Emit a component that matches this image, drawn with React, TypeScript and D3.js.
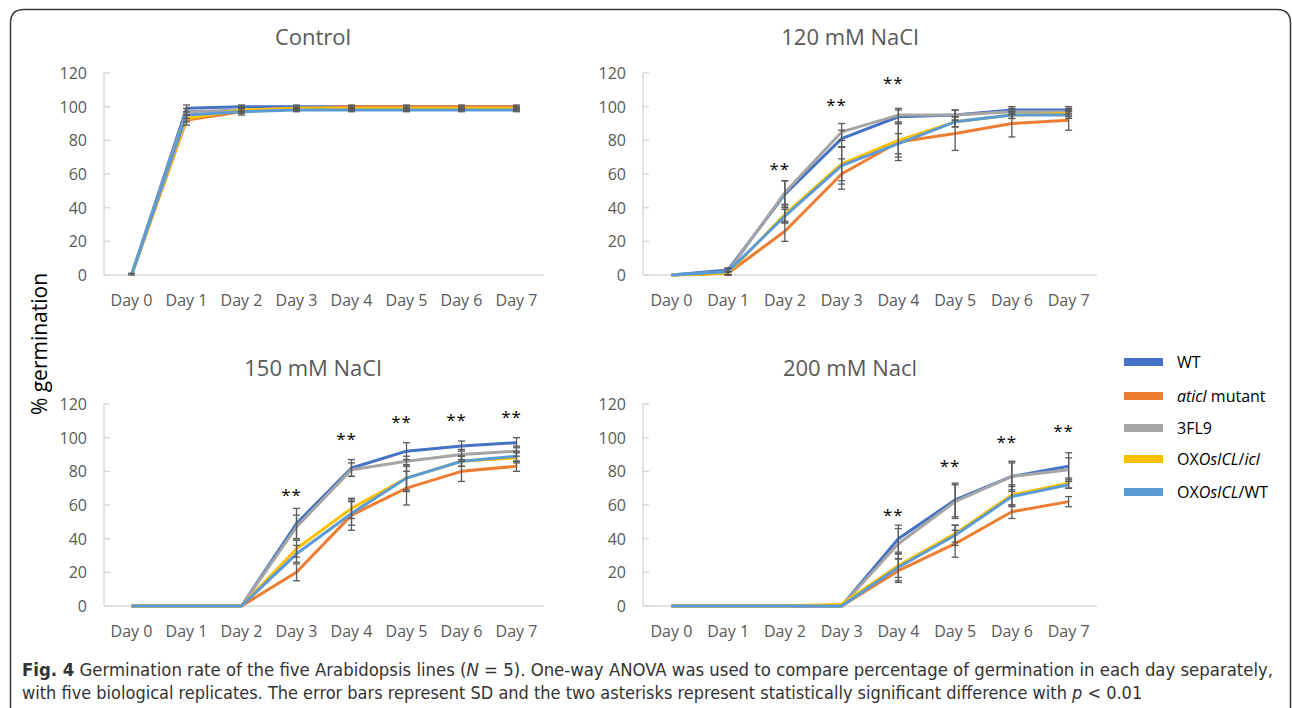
import React, { useEffect, useRef } from 'react';
import * as d3 from 'd3';

// categories / series
const days = ['Day 0', 'Day 1', 'Day 2', 'Day 3', 'Day 4', 'Day 5', 'Day 6', 'Day 7'];
const lineNames = ['WT', 'aticl mutant', '3FL9', 'OXOsICL/icl', 'OXOsICL/WT'];
const lineColors = ['#4472C4', '#ED7D31', '#A5A5A5', '#FFC000', '#5B9BD5'];
const yTicks = [0, 20, 40, 60, 80, 100, 120];
const panelTitles = ['Control', '120 mM NaCl', '150 mM NaCl', '200 mM Nacl'];

// mean % germination per line (rows follow lineNames)
const controlMeans = [
  [0, 99, 100, 100, 100, 100, 100, 100],
  [0, 92, 97, 99, 100, 100, 100, 100],
  [0, 97, 98, 99, 99, 99, 99, 99],
  [0, 93, 98, 99, 99, 99, 99, 99],
  [0, 95, 97, 98, 98, 98, 98, 98],
];
const controlSds = [
  [0, 2, 1, 1, 1, 1, 1, 1],
  [0, 3, 1, 1, 0, 0, 0, 0],
  [0, 2, 1, 1, 1, 1, 1, 1],
  [0, 2, 2, 1, 1, 1, 1, 1],
  [1, 2, 2, 1, 1, 1, 1, 1],
];
const controlStars: [number, number][] = [];

const nacl120Means = [
  [0, 3, 48, 81, 94, 95, 98, 98],
  [0, 1, 26, 60, 79, 84, 90, 92],
  [0, 2, 49, 85, 95, 95, 97, 97],
  [0, 1, 36, 66, 80, 91, 95, 96],
  [0, 2, 35, 65, 78, 91, 95, 95],
];
const nacl120Sds = [
  [0, 1, 8, 5, 4, 3, 2, 2],
  [0, 1, 6, 9, 11, 10, 8, 6],
  [0, 2, 7, 5, 4, 3, 2, 2],
  [0, 1, 5, 10, 10, 3, 2, 2],
  [0, 2, 4, 11, 6, 3, 2, 2],
];
const nacl120Stars: [number, number][] = [[2, 65], [3, 103], [4, 116]];

const nacl150Means = [
  [0, 0, 0, 49, 82, 92, 95, 97],
  [0, 0, 0, 20, 54, 70, 80, 83],
  [0, 0, 0, 47, 81, 86, 90, 92],
  [0, 0, 0, 34, 58, 76, 86, 88],
  [0, 0, 0, 31, 55, 76, 86, 89],
];
const nacl150Sds = [
  [0, 0, 0, 9, 5, 5, 3, 3],
  [0, 0, 0, 5, 9, 10, 6, 3],
  [0, 0, 0, 7, 4, 3, 3, 3],
  [0, 0, 0, 5, 6, 8, 3, 3],
  [0, 0, 0, 5, 7, 7, 3, 3],
];
const nacl150Stars: [number, number][] = [[3, 68], [4, 101], [5, 111], [6, 112], [7, 114]];

const nacl200Means = [
  [0, 0, 0, 0, 40, 63, 77, 83],
  [0, 0, 0, 0, 21, 37, 56, 62],
  [0, 0, 0, 0, 37, 62, 77, 81],
  [0, 0, 0, 1, 24, 43, 66, 73],
  [0, 0, 0, 0, 23, 42, 65, 72],
];
const nacl200Sds = [
  [0, 0, 0, 0, 8, 10, 9, 8],
  [0, 0, 0, 0, 7, 8, 4, 3],
  [0, 0, 0, 0, 9, 10, 8, 7],
  [0, 0, 0, 0, 7, 5, 6, 3],
  [0, 0, 0, 0, 8, 6, 6, 2],
];
const nacl200Stars: [number, number][] = [[4, 56], [5, 85], [6, 99], [7, 106]];

const panelMeans = [controlMeans, nacl120Means, nacl150Means, nacl200Means];
const panelSds = [controlSds, nacl120Sds, nacl150Sds, nacl200Sds];
const panelStars = [controlStars, nacl120Stars, nacl150Stars, nacl200Stars];

// layout of the four plot areas
const boxes = [
  { left: 104, right: 544, top: 73, bottom: 275, titleShift: -11 },
  { left: 643, right: 1097, top: 73, bottom: 275, titleShift: -20 },
  { left: 104, right: 544, top: 404, bottom: 606, titleShift: -11 },
  { left: 643, right: 1097, top: 404, bottom: 606, titleShift: -20 },
];

const W = 1292;
const H = 708;
const FONT = "'Open Sans', 'Noto Sans', sans-serif";
const CAPTION_FONT = "'Liberation Sans Narrow', 'DejaVu Sans Condensed', 'Open Sans', sans-serif";
const TEXT = '#595959';

export default function App() {
  const ref = useRef<SVGSVGElement>(null);

  useEffect(() => {
    if (!ref.current) return;
    const svg = d3.select(ref.current);
    svg.selectAll('*').remove();

    svg.append('rect').attr('width', W).attr('height', H).attr('fill', '#fff');

    // outer frame (open at the bottom)
    svg.append('path')
      .attr('d', `M10.5,${H} L10.5,23 Q10.5,9.5 24,9.5 L1277,9.5 Q1290.5,9.5 1290.5,23 L1290.5,${H}`)
      .attr('fill', 'none')
      .attr('stroke', '#3a3a3a')
      .attr('stroke-width', 1.5);

    boxes.forEach((b, pi) => {
      const x = d3.scaleBand<string>().domain(days).range([b.left, b.right]);
      const y = d3.scaleLinear().domain([0, 120]).range([b.bottom, b.top]);
      const cx = (d: string) => (x(d) as number) + x.bandwidth() / 2;
      const g = svg.append('g');

      // title
      g.append('text')
        .attr('x', (b.left + b.right) / 2 + b.titleShift)
        .attr('y', b.top - 28)
        .attr('text-anchor', 'middle')
        .style('font-family', FONT)
        .style('font-size', '22px')
        .style('fill', TEXT)
        .text(panelTitles[pi]);

      // y axis
      g.append('line')
        .attr('x1', b.left).attr('x2', b.left)
        .attr('y1', y(0)).attr('y2', y(120))
        .attr('stroke', '#d9d9d9').attr('stroke-width', 1.5);
      yTicks.forEach(t => {
        g.append('line')
          .attr('x1', b.left).attr('x2', b.left + 6)
          .attr('y1', y(t)).attr('y2', y(t))
          .attr('stroke', '#d9d9d9').attr('stroke-width', 1.5);
        g.append('text')
          .attr('x', b.left - 17)
          .attr('y', y(t) + 6)
          .attr('text-anchor', 'end')
          .style('font-family', FONT)
          .style('font-size', '16px')
          .style('fill', TEXT)
          .text(t);
      });

      // x axis
      g.append('line')
        .attr('x1', b.left).attr('x2', b.right)
        .attr('y1', y(0)).attr('y2', y(0))
        .attr('stroke', '#d9d9d9').attr('stroke-width', 1.5);
      days.forEach(d => {
        g.append('text')
          .attr('x', cx(d))
          .attr('y', y(0) + 31)
          .attr('text-anchor', 'middle')
          .style('font-family', FONT)
          .style('font-size', '16px')
          .style('fill', TEXT)
          .text(d);
      });

      // series lines
      const line = d3.line<number>()
        .x((_, i) => cx(days[i]))
        .y(v => y(v));
      panelMeans[pi].forEach((vals, si) => {
        g.append('path')
          .attr('d', line(vals) as string)
          .attr('fill', 'none')
          .attr('stroke', lineColors[si])
          .attr('stroke-width', 3)
          .attr('stroke-linejoin', 'round');
      });

      // error bars
      panelMeans[pi].forEach((vals, si) => {
        vals.forEach((v, di) => {
          const sd = panelSds[pi][si][di];
          if (!sd) return;
          const px = cx(days[di]);
          const lo = y(Math.max(0, v - sd));
          const hi = y(v + sd);
          const eg = g.append('g').attr('stroke', '#595959').attr('stroke-width', 1.3);
          eg.append('line').attr('x1', px).attr('x2', px).attr('y1', lo).attr('y2', hi);
          eg.append('line').attr('x1', px - 3.5).attr('x2', px + 3.5).attr('y1', lo).attr('y2', lo);
          eg.append('line').attr('x1', px - 3.5).attr('x2', px + 3.5).attr('y1', hi).attr('y2', hi);
        });
      });

      // significance marks
      panelStars[pi].forEach(([di, v]) => {
        g.append('text')
          .attr('x', cx(days[di]) - 5)
          .attr('y', y(v) + 9)
          .attr('text-anchor', 'middle')
          .style('font-family', FONT)
          .style('font-size', '17px')
          .style('letter-spacing', '1px')
          .style('fill', '#000')
          .text('**');
      });
    });

    // y axis title
    svg.append('text')
      .attr('transform', 'translate(47,344) rotate(-90)')
      .attr('text-anchor', 'middle')
      .style('font-family', FONT)
      .style('font-size', '21px')
      .style('fill', '#000')
      .text('% germination');

    // legend
    const legendY = [362, 396, 428, 459, 492];
    const legend = svg.append('g');
    lineNames.forEach((name, i) => {
      legend.append('rect')
        .attr('x', 1124).attr('y', legendY[i] - 4)
        .attr('width', 39).attr('height', 8)
        .attr('fill', lineColors[i]);
      const t = legend.append('text')
        .attr('x', 1177).attr('y', legendY[i] + 6)
        .style('font-family', FONT)
        .style('font-size', '16px')
        .style('fill', '#000');
      if (name === 'aticl mutant') {
        t.append('tspan').style('font-style', 'italic').text('aticl');
        t.append('tspan').text(' mutant');
      } else if (name === 'OXOsICL/icl') {
        t.append('tspan').text('OX');
        t.append('tspan').style('font-style', 'italic').text('OsICL');
        t.append('tspan').text('/');
        t.append('tspan').style('font-style', 'italic').text('icl');
      } else if (name === 'OXOsICL/WT') {
        t.append('tspan').text('OX');
        t.append('tspan').style('font-style', 'italic').text('OsICL');
        t.append('tspan').text('/WT');
      } else {
        t.text(name);
      }
    });

    // caption: font size fitted so each line spans the same width as the figure's
    const fitLine = (
      yPos: number,
      width: number,
      parts: { text: string; bold?: boolean; italic?: boolean }[],
    ) => {
      const t = svg.append('text')
        .attr('x', 22).attr('y', yPos)
        .style('font-family', CAPTION_FONT)
        .style('font-size', '21px')
        .style('fill', '#333');
      parts.forEach(p => {
        const s = t.append('tspan').text(p.text);
        if (p.bold) s.style('font-weight', 'bold');
        if (p.italic) s.style('font-style', 'italic');
      });
      const node = t.node() as SVGTextElement;
      const natural = node.getComputedTextLength();
      if (natural > 0) t.style('font-size', `${(21 * width) / natural}px`);
    };

    fitLine(676, 1252, [
      { text: 'Fig. 4', bold: true },
      { text: ' Germination rate of the five Arabidopsis lines (' },
      { text: 'N', italic: true },
      { text: ' = 5). One-way ANOVA was used to compare percentage of germination in each day separately,' },
    ]);
    fitLine(699, 1121, [
      { text: 'with five biological replicates. The error bars represent SD and the two asterisks represent statistically significant difference with ' },
      { text: 'p', italic: true },
      { text: ' < 0.01' },
    ]);
  }, []);

  return (
    <svg
      ref={ref}
      width={W}
      height={H}
      style={{ position: 'absolute', left: 0, top: 0, display: 'block' }}
    />
  );
}
